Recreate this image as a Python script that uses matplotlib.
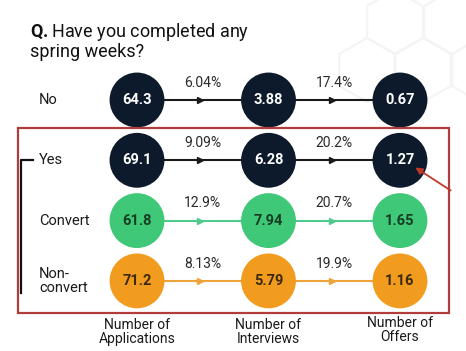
import matplotlib.pyplot as plt
import matplotlib.patches as mpatches
import numpy as np

# data
rows = ['No', 'Yes', 'Convert', 'Non-\nconvert']
stages = ['Number of\nApplications', 'Number of\nInterviews', 'Number of\nOffers']
values = [
    [64.3, 3.88, 0.67],
    [69.1, 6.28, 1.27],
    [61.8, 7.94, 1.65],
    [71.2, 5.79, 1.16],
]
rates = [
    ['6.04%', '17.4%'],
    ['9.09%', '20.2%'],
    ['12.9%', '20.7%'],
    ['8.13%', '19.9%'],
]

navy = '#0d1a2b'
green = '#3ec878'
orange = '#f29c1f'
fill_colors = [navy, navy, green, orange]
line_colors = ['#1a1a1a', '#1a1a1a', '#52c98c', '#eea43a']
text_colors = ['white', 'white', '#173d22', '#3d2a0c']

font = 'Roboto'
plt.rcParams['mathtext.fontset'] = 'custom'
plt.rcParams['mathtext.rm'] = 'Roboto'
plt.rcParams['mathtext.bf'] = 'Roboto:bold'

W, H = 466, 351
fig = plt.figure(figsize=(W / 100, H / 100), dpi=100)
fig.patch.set_facecolor('white')

# background in pixel units: faint hexagons in the corner
bg = fig.add_axes([0, 0, 1, 1])
bg.set_xlim(0, W)
bg.set_ylim(H, 0)
bg.axis('off')
for cx, cy in [(395, 22), (452, 22), (423, 70), (480, 70), (367, 70)]:
    bg.add_patch(mpatches.RegularPolygon((cx, cy), 6, radius=32, orientation=0,
                                         fill=False, ec='#f4f4f4', lw=1.5))

# main axes: columns 0..2, rows 0..3
ax = fig.add_axes([0, 0, 1, 1])
ax.set_xlim(-137 / 131.5, (W - 137) / 131.5)
ax.set_ylim((H - 100) / 60.3, -100 / 60.3)
ax.axis('off')
ax.patch.set_alpha(0)

cols = np.arange(len(stages))
for i, row in enumerate(rows):
    # connecting lines
    ax.plot(cols, [i] * len(cols), color=line_colors[i], lw=1.5, zorder=1)
    mids = (cols[:-1] + cols[1:]) / 2
    ax.plot(mids - 0.02, [i] * len(mids), marker='>', ls='none', ms=5,
            color=line_colors[i], zorder=2)
    for m, r in zip(mids, rates[i]):
        ax.text(m, i - 0.17, r, ha='center', va='bottom', fontsize=10,
                family=font, color='#2a2a2a', zorder=3)
    # circles
    ax.scatter(cols, [i] * len(cols), s=1560, color=fill_colors[i],
               edgecolors='none', zorder=4)
    for c, v in zip(cols, values[i]):
        ax.text(c, i, f'{v:g}', ha='center', va='center', fontsize=10.5,
                family=font, weight='bold', color=text_colors[i], zorder=5)
    # row label
    ax.text(-0.745, i, row, ha='left', va='center', fontsize=10.5,
            family=font, color='#1a1a1a', linespacing=1.05)

# stage labels
for c, s in zip(cols, stages):
    dy = -0.03 if c == 2 else 0
    ax.text(c, 3.85 + dy, s, ha='center', va='center', fontsize=10,
            family=font, color='#1a1a1a', linespacing=1.0)

# overlay in pixel units for title and annotations (drawn on top)
deco = fig.add_axes([0, 0, 1, 1])
deco.set_xlim(0, W)
deco.set_ylim(H, 0)
deco.axis('off')
deco.patch.set_alpha(0)

deco.text(30, 41, r'$\mathbf{Q.}$Have you completed any' + '\nspring weeks?',
          ha='left', va='center', fontsize=13, family=font, color='#111111',
          linespacing=0.95)

deco.add_patch(mpatches.Rectangle((17.5, 128), 431, 185, fill=False,
                                  ec='#b03c3c', lw=1.6, zorder=6))
deco.plot([33, 20.5, 20.5], [160, 160, 293], color='#111111', lw=1.6, zorder=6)
deco.annotate('', xy=(413, 166), xytext=(453, 192),
              arrowprops=dict(arrowstyle='-|>', color='#c0392b', lw=1.3,
                              mutation_scale=10), zorder=7)

fig.savefig('out.png', dpi=100)
